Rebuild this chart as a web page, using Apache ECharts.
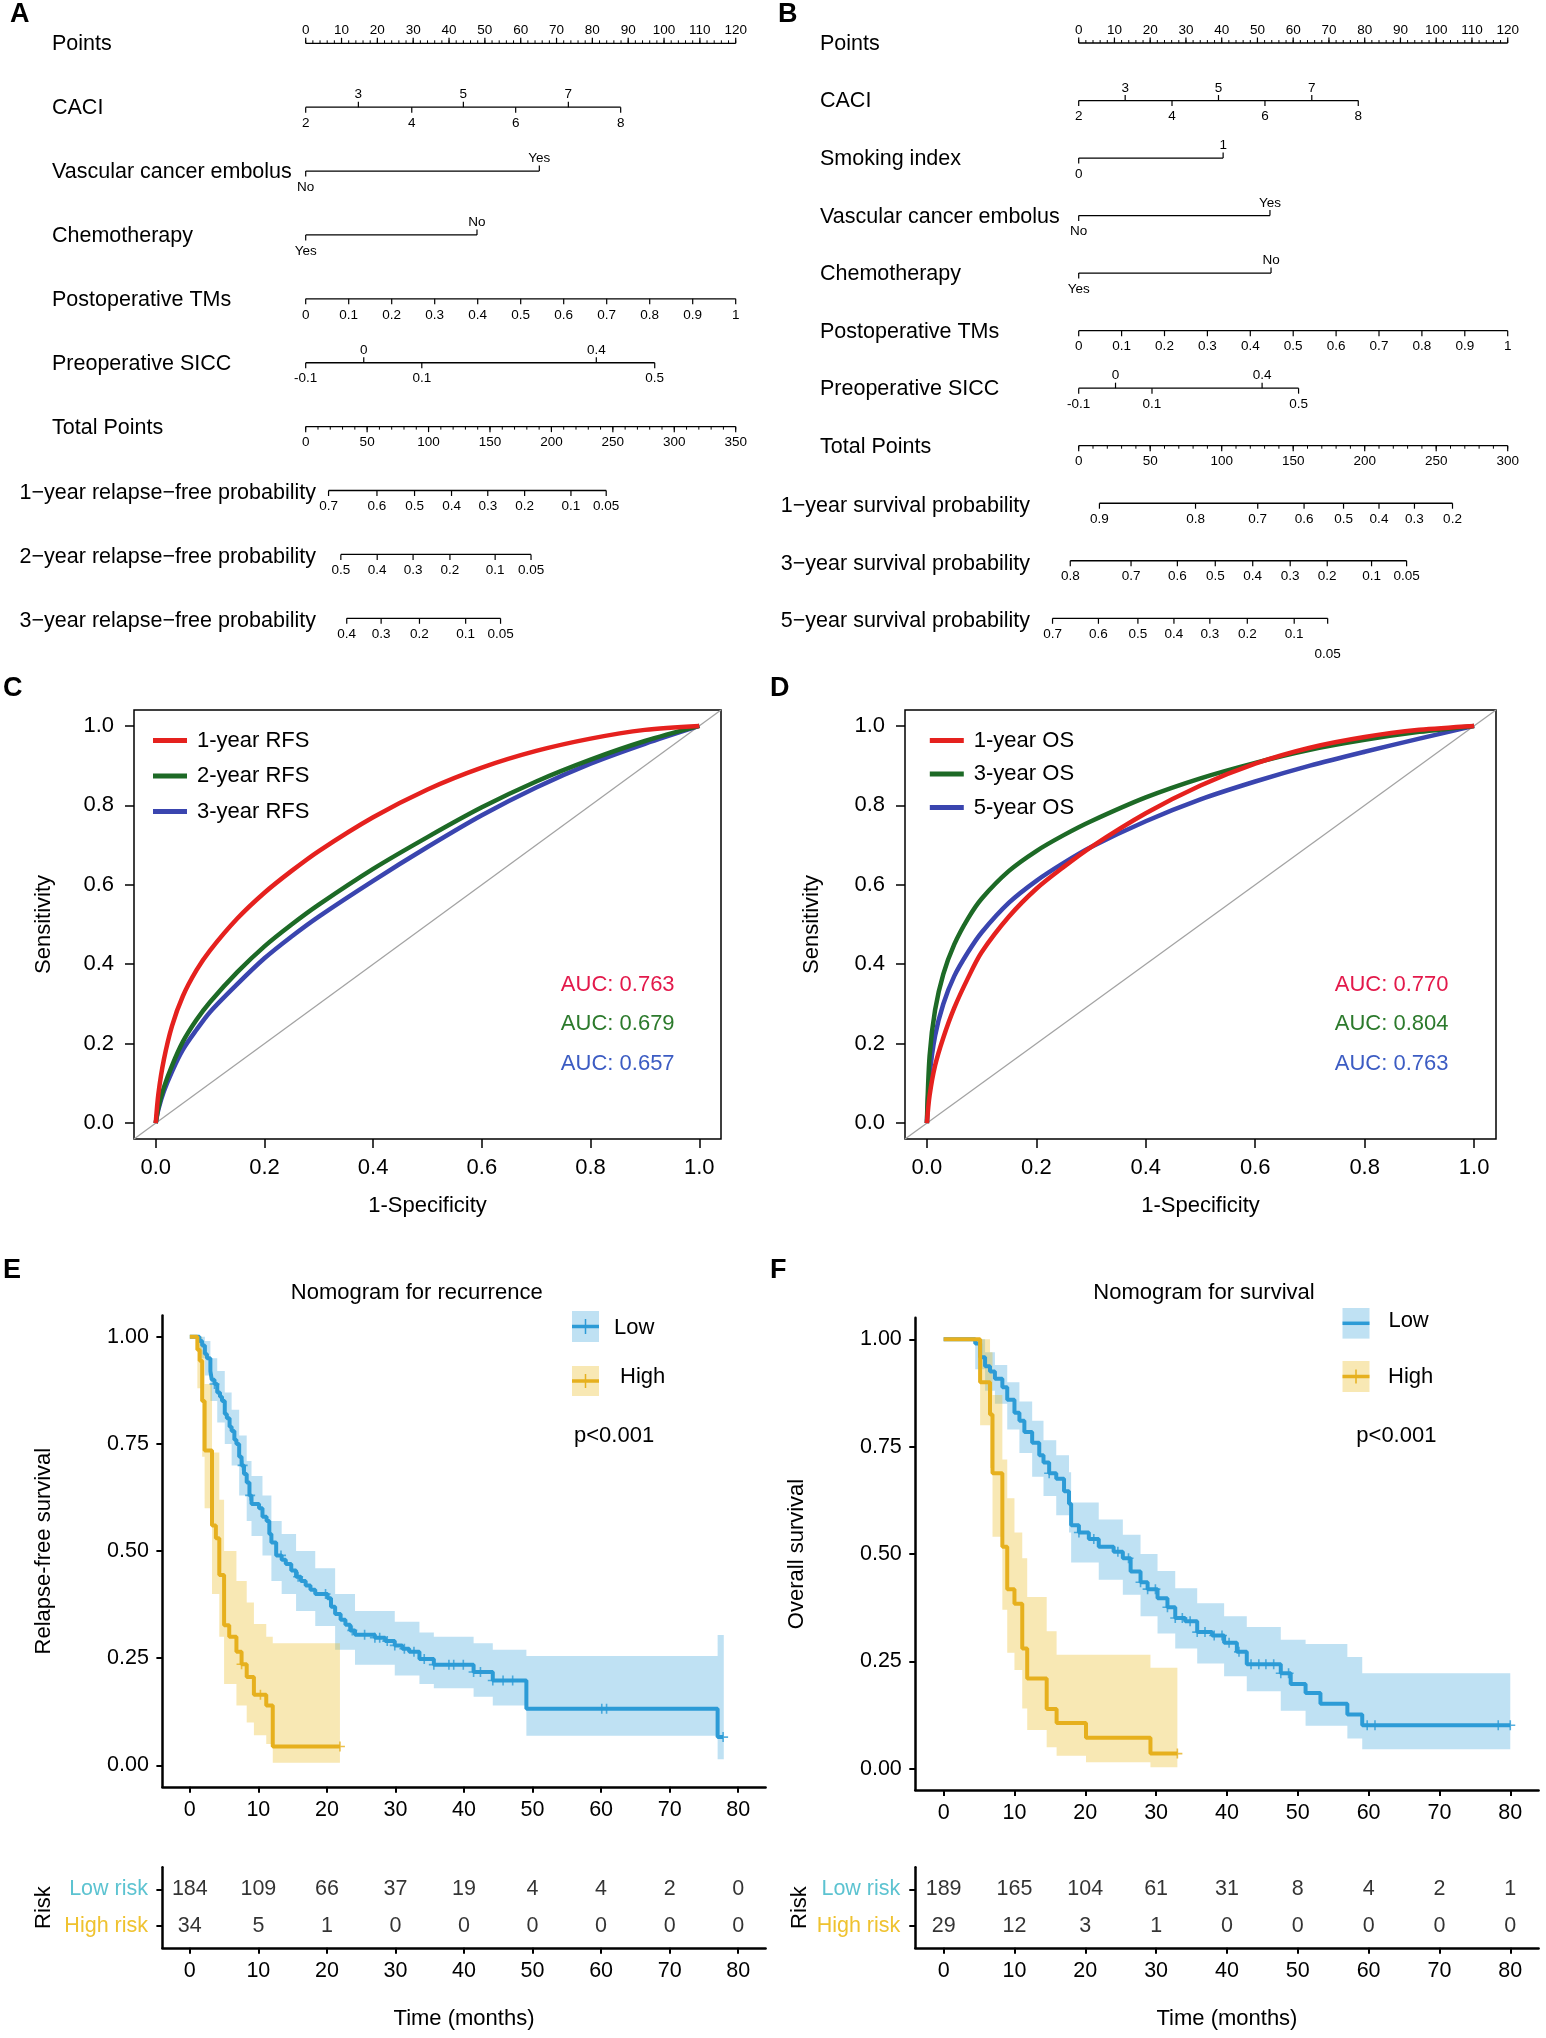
<!DOCTYPE html>
<html>
<head>
<meta charset="utf-8">
<script src="https://cdn.jsdelivr.net/npm/echarts@6/dist/echarts.min.js"></script>
<style>
html,body{margin:0;padding:0;background:#fff}
#chart{width:1546px;height:2038px}
</style>
</head>
<body>
<div id="chart"></div>
<script>
var FONT = 'Liberation Sans, Arial, Helvetica, sans-serif';

// ---------- A: nomogram for recurrence ----------
var nomoA_names = ['Points', 'CACI', 'Vascular cancer embolus', 'Chemotherapy', 'Postoperative TMs',
    'Preoperative SICC', 'Total Points', '1\u2212year relapse\u2212free probability',
    '2\u2212year relapse\u2212free probability', '3\u2212year relapse\u2212free probability'];
var nomoA_labels = [
    ['0', '10', '20', '30', '40', '50', '60', '70', '80', '90', '100', '110', '120'],
    ['2', '3', '4', '5', '6', '7', '8'],
    ['No', 'Yes'],
    ['Yes', 'No'],
    ['0', '0.1', '0.2', '0.3', '0.4', '0.5', '0.6', '0.7', '0.8', '0.9', '1'],
    ['-0.1', '0', '0.1', '0.4', '0.5'],
    ['0', '50', '100', '150', '200', '250', '300', '350'],
    ['0.7', '0.6', '0.5', '0.4', '0.3', '0.2', '0.1', '0.05'],
    ['0.5', '0.4', '0.3', '0.2', '0.1', '0.05'],
    ['0.4', '0.3', '0.2', '0.1', '0.05']
];
// where each label sits: in points for predictors, in total points for the last rows
var nomoA_at = [
    [0, 10, 20, 30, 40, 50, 60, 70, 80, 90, 100, 110, 120],
    [0, 14.7, 29.6, 44.0, 58.6, 73.3, 87.9],
    [0, 65.2],
    [0, 47.8],
    [0, 12, 24, 36, 48, 60, 72, 84, 96, 108, 120],
    [0, 16.2, 32.4, 81.1, 97.4],
    [0, 50, 100, 150, 200, 250, 300, 350],
    [18.6, 58.0, 88.6, 118.7, 148.2, 178.2, 215.9, 244.6],
    [28.6, 58.2, 87.4, 117.4, 154.2, 183.4],
    [33.4, 61.4, 92.6, 130.2, 158.6]
];

// ---------- B: nomogram for survival ----------
var nomoB_names = ['Points', 'CACI', 'Smoking index', 'Vascular cancer embolus', 'Chemotherapy',
    'Postoperative TMs', 'Preoperative SICC', 'Total Points', '1\u2212year survival probability',
    '3\u2212year survival probability', '5\u2212year survival probability'];
var nomoB_labels = [
    ['0', '10', '20', '30', '40', '50', '60', '70', '80', '90', '100', '110', '120'],
    ['2', '3', '4', '5', '6', '7', '8'],
    ['0', '1'],
    ['No', 'Yes'],
    ['Yes', 'No'],
    ['0', '0.1', '0.2', '0.3', '0.4', '0.5', '0.6', '0.7', '0.8', '0.9', '1'],
    ['-0.1', '0', '0.1', '0.4', '0.5'],
    ['0', '50', '100', '150', '200', '250', '300'],
    ['0.9', '0.8', '0.7', '0.6', '0.5', '0.4', '0.3', '0.2'],
    ['0.8', '0.7', '0.6', '0.5', '0.4', '0.3', '0.2', '0.1', '0.05'],
    ['0.7', '0.6', '0.5', '0.4', '0.3', '0.2', '0.1', '0.05']
];
var nomoB_at = [
    [0, 10, 20, 30, 40, 50, 60, 70, 80, 90, 100, 110, 120],
    [0, 13.0, 26.1, 39.1, 52.1, 65.2, 78.2],
    [0, 40.4],
    [0, 53.5],
    [0, 53.8],
    [0, 12, 24, 36, 48, 60, 72, 84, 96, 108, 120],
    [0, 10.3, 20.5, 51.3, 61.5],
    [0, 50, 100, 150, 200, 250, 300],
    [14.5, 81.7, 125.2, 157.6, 185.2, 210.0, 234.8, 261.4],
    [-5.9, 36.6, 69.0, 95.5, 121.7, 147.9, 173.8, 204.8, 229.3],
    [-18.3, 13.8, 41.4, 66.6, 91.7, 117.9, 150.7, 174.1]
];

// ---------- C / D: ROC curves ----------
var rocFpr = [0, 0.005, 0.015, 0.03, 0.05, 0.075, 0.1, 0.15, 0.2, 0.25, 0.3, 0.4, 0.5, 0.6, 0.7, 0.8, 0.9, 1.0];
var rocC_1yr = [0, 0.075, 0.16, 0.245, 0.32, 0.385, 0.435, 0.515, 0.58, 0.635, 0.685, 0.77, 0.84, 0.895, 0.937, 0.968, 0.99, 1];
var rocC_2yr = [0, 0.04, 0.09, 0.145, 0.205, 0.26, 0.305, 0.38, 0.445, 0.50, 0.55, 0.64, 0.72, 0.795, 0.86, 0.915, 0.962, 1];
var rocC_3yr = [0, 0.035, 0.08, 0.13, 0.185, 0.235, 0.28, 0.35, 0.415, 0.47, 0.52, 0.61, 0.695, 0.775, 0.845, 0.905, 0.955, 1];
var rocD_1yr = [0, 0.07, 0.145, 0.215, 0.29, 0.365, 0.43, 0.52, 0.59, 0.645, 0.695, 0.78, 0.85, 0.905, 0.945, 0.972, 0.99, 1];
var rocD_3yr = [0, 0.17, 0.285, 0.375, 0.45, 0.515, 0.565, 0.635, 0.685, 0.725, 0.76, 0.82, 0.868, 0.907, 0.94, 0.965, 0.985, 1];
var rocD_5yr = [0, 0.12, 0.22, 0.30, 0.37, 0.43, 0.48, 0.555, 0.61, 0.655, 0.695, 0.76, 0.815, 0.86, 0.90, 0.935, 0.968, 1];
var rocC_names = ['1-year RFS', '2-year RFS', '3-year RFS'];
var rocD_names = ['1-year OS', '3-year OS', '5-year OS'];
var rocC_auc = ['AUC: 0.763', 'AUC: 0.679', 'AUC: 0.657'];
var rocD_auc = ['AUC: 0.770', 'AUC: 0.804', 'AUC: 0.763'];
var rocTicks = [0, 0.2, 0.4, 0.6, 0.8, 1.0];

// ---------- E: relapse-free survival ----------
var kmE_lowT = [0, 1.4, 1.8, 2.2, 2.5, 3.0, 3.2, 3.6, 4.0, 4.4, 4.7, 5.1, 5.4, 5.8, 6.1, 6.5, 6.8, 7.2, 7.55, 7.9,
    8.3, 8.7, 9.0, 10.1, 10.6, 11.2, 11.6, 11.9, 12.6, 13.4, 14.0, 14.8, 15.5, 16.2, 16.9, 17.6, 18.3, 20.1, 20.6,
    21.2, 22.0, 22.7, 23.4, 24.1, 27.0, 28.5, 29.9, 31.0, 32.0, 33.5, 35.6, 41.4, 44.2, 49.1, 77.0, 77.8];
var kmE_lowS = [1, 0.99, 0.98, 0.96, 0.95, 0.92, 0.90, 0.89, 0.87, 0.86, 0.85, 0.82, 0.81, 0.79, 0.78, 0.76, 0.75,
    0.72, 0.70, 0.68, 0.66, 0.63, 0.61, 0.60, 0.58, 0.57, 0.54, 0.52, 0.49, 0.48, 0.47, 0.455, 0.44, 0.43, 0.42, 0.41,
    0.40, 0.39, 0.37, 0.353, 0.34, 0.328, 0.315, 0.305, 0.298, 0.29, 0.28, 0.272, 0.265, 0.248, 0.235, 0.218, 0.198,
    0.132, 0.066, 0.066];
var kmE_lowBandT = [1.4, 2.2, 3.0, 4.0, 5.1, 6.1, 7.2, 8.3, 9.0, 10.6, 11.9, 13.4, 15.5, 18.3, 21.2, 24.1, 29.9, 33.5,
    35.6, 41.4, 44.2, 49.1, 77.0, 77.9];
var kmE_lowBandLo = [0.95, 0.91, 0.85, 0.80, 0.75, 0.70, 0.63, 0.57, 0.535, 0.49, 0.43, 0.40, 0.36, 0.325, 0.27,
    0.235, 0.21, 0.19, 0.18, 0.16, 0.14, 0.069, 0.014];
var kmE_lowBandHi = [1.0, 0.99, 0.95, 0.92, 0.87, 0.83, 0.77, 0.71, 0.675, 0.63, 0.57, 0.54, 0.50, 0.46, 0.40,
    0.36, 0.335, 0.31, 0.30, 0.285, 0.27, 0.255, 0.304];
var kmE_lowCens = [3.6, 7.7, 8.8, 13.3, 15.8, 19.8, 23.7, 25.5, 27.0, 27.7, 28.8, 29.9, 31.3, 32.7, 34.2, 35.6,
    37.8, 38.5, 39.9, 41.4, 42.4, 44.2, 45.7, 47.1, 60.1, 60.8, 77.8];
var kmE_highT = [0, 1.1, 1.44, 1.8, 2.16, 3.24, 3.8, 4.3, 5.0, 5.75, 6.8, 7.55, 8.3, 9.35, 11.15, 12.1, 21.9];
var kmE_highS = [1, 0.97, 0.944, 0.85, 0.735, 0.56, 0.53, 0.444, 0.327, 0.30, 0.265, 0.236, 0.206, 0.165, 0.14,
    0.044, 0.044];
var kmE_highBandT = [1.1, 1.8, 2.16, 3.24, 4.3, 5.0, 6.8, 8.3, 9.35, 11.15, 12.1, 21.9];
var kmE_highBandLo = [0.88, 0.72, 0.60, 0.40, 0.30, 0.19, 0.14, 0.10, 0.07, 0.05, 0.006];
var kmE_highBandHi = [1.0, 0.97, 0.89, 0.73, 0.62, 0.50, 0.43, 0.38, 0.33, 0.30, 0.285];
var kmE_highCens = [7.55, 10.3, 21.9];

// ---------- F: overall survival ----------
var kmF_lowT = [0, 4.46, 5.15, 5.85, 6.55, 7.24, 8.29, 8.98, 10.0, 10.7, 11.4, 12.5, 13.5, 14.1, 14.9, 15.9, 17.0,
    17.7, 18.0, 19.1, 20.5, 21.9, 24.0, 25.3, 26.4, 27.8, 28.8, 30.2, 31.6, 32.7, 34.1, 35.8, 37.9, 39.6, 41.4,
    42.8, 47.6, 49.0, 51.1, 53.2, 57.0, 59.1, 80.0];
var kmF_lowS = [1, 0.99, 0.958, 0.937, 0.925, 0.908, 0.888, 0.859, 0.829, 0.81, 0.784, 0.759, 0.73, 0.713, 0.688,
    0.675, 0.646, 0.617, 0.567, 0.55, 0.535, 0.517, 0.505, 0.49, 0.459, 0.434, 0.418, 0.397, 0.376, 0.351, 0.343,
    0.318, 0.31, 0.293, 0.272, 0.243, 0.222, 0.197, 0.176, 0.151, 0.126, 0.101, 0.101];
var kmF_lowBandT = [4.46, 5.85, 7.24, 8.98, 10.7, 12.5, 14.1, 15.9, 17.7, 18.0, 21.9, 25.3, 27.8, 30.2, 32.7, 35.8,
    39.6, 42.8, 47.6, 51.1, 57.0, 59.1, 80.0];
var kmF_lowBandLo = [0.93, 0.88, 0.85, 0.79, 0.735, 0.68, 0.635, 0.59, 0.55, 0.48, 0.44, 0.405, 0.355, 0.315, 0.28,
    0.245, 0.215, 0.18, 0.135, 0.10, 0.07, 0.045];
var kmF_lowBandHi = [1.0, 0.97, 0.94, 0.90, 0.855, 0.81, 0.765, 0.73, 0.69, 0.62, 0.58, 0.545, 0.50, 0.46, 0.42,
    0.385, 0.355, 0.33, 0.30, 0.29, 0.26, 0.222];
var kmF_lowCens = [14.9, 19.1, 21.2, 24.6, 26.1, 27.8, 28.8, 29.9, 31.6, 32.7, 33.7, 34.8, 35.8, 36.9, 38.2, 39.3,
    40.3, 41.7, 43.4, 44.5, 45.5, 46.6, 47.6, 48.7, 59.8, 60.9, 78.3, 80.0];
var kmF_highT = [0, 5.15, 6.55, 6.9, 8.29, 8.98, 10.0, 11.1, 11.8, 14.55, 15.95, 20.1, 29.2, 33.0];
var kmF_highS = [1, 0.90, 0.825, 0.688, 0.517, 0.418, 0.384, 0.28, 0.21, 0.139, 0.106, 0.072, 0.035, 0.035];
var kmF_highBandT = [5.15, 6.55, 6.9, 8.29, 8.98, 10.0, 11.1, 11.8, 14.55, 15.95, 20.1, 29.2, 33.0];
var kmF_highBandLo = [0.80, 0.70, 0.54, 0.37, 0.27, 0.23, 0.14, 0.09, 0.05, 0.03, 0.015, 0.003];
var kmF_highBandHi = [1.0, 0.97, 0.87, 0.72, 0.63, 0.55, 0.49, 0.40, 0.32, 0.265, 0.265, 0.235];
var kmF_highCens = [33.0];

// ---------- numbers at risk ----------
var riskTimes = [0, 10, 20, 30, 40, 50, 60, 70, 80];
var riskE_low = [184, 109, 66, 37, 19, 4, 4, 2, 0];
var riskE_high = [34, 5, 1, 0, 0, 0, 0, 0, 0];
var riskF_low = [189, 165, 104, 61, 31, 8, 4, 2, 1];
var riskF_high = [29, 12, 3, 1, 0, 0, 0, 0, 0];
var kmTicks = [0, 10, 20, 30, 40, 50, 60, 70, 80];
var survTicks = [0, 0.25, 0.5, 0.75, 1];

// colours
var RED = '#E5211E', GREEN = '#1D6A26', BLUE = '#3A45AF';
var AUC_COL = ['#E3194B', '#2C7A2C', '#3C5CC3'];
var KM_BLUE = '#2C9BD6', KM_GOLD = '#E6B01E';
var BAND_BLUE = 'rgba(44,155,214,0.30)', BAND_GOLD = 'rgba(236,190,40,0.35)';

// ---------- helpers ----------
function nomoRender(nm) {
    return function (params, api) {
        var i = api.value(1);
        var kind = nm.kind[i];
        var k = (kind === 'total' || kind === 'prob') ? 120 / nm.totalMax : 1;
        var y = api.coord([0, i])[1];
        var at = nm.at[i];
        var xs = at.map(function (v) { return api.coord([v * k, i])[0]; });
        var kids = [];
        kids.push({type: 'line', shape: {x1: xs[0], y1: y, x2: xs[xs.length - 1], y2: y},
            style: {stroke: '#000', lineWidth: 1.3}});
        if (nm.minor[i]) {
            var dirM = kind === 'points' ? -1 : 1;
            for (var v = at[0]; v <= at[at.length - 1] + 1e-9; v += nm.minor[i]) {
                var xm = api.coord([v * k, i])[0];
                kids.push({type: 'line', shape: {x1: xm, y1: y, x2: xm, y2: y + dirM * 3},
                    style: {stroke: '#000', lineWidth: 1}});
            }
        }
        nm.labels[i].forEach(function (lab, j) {
            var up = kind === 'points' || (kind === 'alt' && j % 2 === 1);
            var dir = up ? -1 : 1;
            var drop = (nm.stagger[i] && nm.stagger[i].indexOf(lab) >= 0) ? 20 : 0;
            kids.push({type: 'line', shape: {x1: xs[j], y1: y, x2: xs[j], y2: y + dir * 5.5},
                style: {stroke: '#000', lineWidth: 1.2}});
            kids.push({type: 'text', style: {text: lab, x: xs[j], y: up ? y - 12.7 : y + 16 + drop,
                align: 'center', verticalAlign: 'middle', fontSize: 13.5, fontFamily: FONT, fill: '#000'}});
        });
        var isProb = kind === 'prob';
        kids.push({type: 'text', style: {text: nm.names[i], x: isProb ? nm.probX : nm.predX, y: y + (isProb ? 3 : 1),
            align: isProb ? 'right' : 'left', verticalAlign: 'middle', fontSize: 21.5, fontFamily: FONT, fill: '#000'}});
        return {type: 'group', children: kids};
    };
}

function pairs(xs, ys) {
    return xs.map(function (x, i) { return [x, ys[i]]; });
}

function stepAt(T, S, t) {
    var s = S[0];
    for (var i = 0; i < T.length; i++) { if (T[i] <= t) s = S[i]; }
    return s;
}

function bandRender(T, lo, hi, color) {
    return function (params, api) {
        var pts = [], k;
        for (k = 0; k < lo.length; k++) {
            pts.push(api.coord([T[k], hi[k]]), api.coord([T[k + 1], hi[k]]));
        }
        for (k = lo.length - 1; k >= 0; k--) {
            pts.push(api.coord([T[k + 1], lo[k]]), api.coord([T[k], lo[k]]));
        }
        return {type: 'polygon', shape: {points: pts}, style: {fill: color}};
    };
}

var PLUS = 'path://M4.2,0h1.6v4.2h4.2v1.6h-4.2v4.2h-1.6v-4.2h-4.2v-1.6h4.2z';

// ---------- layout ----------
var L = {
    nomoA: {left: 305.7, top: 43.3, width: 430, height: 575},
    nomoB: {left: 1078.7, top: 43, width: 429, height: 575.3},
    rocC: {left: 134, top: 710, width: 587, height: 429},
    rocD: {left: 905, top: 710, width: 591, height: 429},
    kmE: {left: 162.4, top: 1315.4, width: 603.2, height: 471.4},
    kmF: {left: 915.3, top: 1317.8, width: 623.3, height: 472.3},
    tabE: {left: 162.4, top: 1867.3, width: 603.2, height: 80.5},
    tabF: {left: 915.3, top: 1867.3, width: 623.3, height: 80.5}
};

var nomoA = {names: nomoA_names, labels: nomoA_labels, at: nomoA_at,
    kind: ['points', 'alt', 'alt', 'alt', 'below', 'alt', 'total', 'prob', 'prob', 'prob'],
    minor: {0: 2, 6: 10}, totalMax: 350, predX: 52, probX: 316, stagger: {}};
var nomoB = {names: nomoB_names, labels: nomoB_labels, at: nomoB_at,
    kind: ['points', 'alt', 'alt', 'alt', 'alt', 'below', 'alt', 'total', 'prob', 'prob', 'prob'],
    minor: {0: 2, 7: 10}, totalMax: 300, predX: 820, probX: 1030, stagger: {10: ['0.05']}};

var txt = {fontSize: 22, color: '#000', fontFamily: FONT};

function hiddenAxis(gi, min, max, inverse) {
    return {gridIndex: gi, type: 'value', min: min, max: max, inverse: !!inverse, show: false};
}

function rocXAxis(gi) {
    return {gridIndex: gi, type: 'value', min: -0.04, max: 1.04, position: 'bottom',
        name: '1-Specificity', nameLocation: 'middle', nameGap: 56, nameTextStyle: txt, nameMoveOverlap: false,
        axisLine: {show: false, onZero: false},
        axisTick: {show: true, customValues: rocTicks, length: 9, lineStyle: {color: '#000', width: 1.5}},
        axisLabel: {customValues: rocTicks, margin: 18, fontSize: 22, color: '#000', fontFamily: FONT,
            formatter: function (v) { return v.toFixed(1); }},
        splitLine: {show: false}};
}
function rocYAxis(gi, gap) {
    return {gridIndex: gi, type: 'value', min: -0.04, max: 1.04, position: 'left',
        name: 'Sensitivity', nameLocation: 'middle', nameRotate: 90, nameGap: gap, nameTextStyle: txt,
        nameMoveOverlap: false,
        axisLine: {show: false, onZero: false},
        axisTick: {show: true, customValues: rocTicks, length: 9, lineStyle: {color: '#000', width: 1.5}},
        axisLabel: {customValues: rocTicks, margin: 20, fontSize: 22, color: '#000', fontFamily: FONT,
            formatter: function (v) { return v.toFixed(1); }},
        splitLine: {show: false}};
}
function kmXAxis(gi, name) {
    var ax = {gridIndex: gi, type: 'value', min: -4, max: 84, position: 'bottom',
        axisLine: {show: true, onZero: false, lineStyle: {color: '#000', width: 2.5}},
        axisTick: {show: true, customValues: kmTicks, length: 6, lineStyle: {color: '#000', width: 2}},
        axisLabel: {customValues: kmTicks, margin: 12, fontSize: 21.5, color: '#000', fontFamily: FONT},
        splitLine: {show: false}};
    if (name) {
        ax.name = name; ax.nameLocation = 'middle'; ax.nameGap = 60; ax.nameTextStyle = txt;
        ax.nameMoveOverlap = false;
    }
    return ax;
}
function kmYAxis(gi, name, gap) {
    return {gridIndex: gi, type: 'value', min: -0.05, max: 1.05, position: 'left',
        name: name, nameLocation: 'middle', nameRotate: 90, nameGap: gap, nameTextStyle: txt, nameMoveOverlap: false,
        axisLine: {show: true, onZero: false, lineStyle: {color: '#000', width: 2.5}},
        axisTick: {show: true, customValues: survTicks, length: 6, lineStyle: {color: '#000', width: 2}},
        axisLabel: {customValues: survTicks, margin: 13.5, fontSize: 21.5, color: '#000', fontFamily: FONT,
            formatter: function (v) { return v.toFixed(2); }},
        splitLine: {show: false}};
}
function tabYAxis(gi, gap, margin) {
    return {gridIndex: gi, type: 'value', min: 0.4, max: 2.6, position: 'left',
        name: 'Risk', nameLocation: 'middle', nameRotate: 90, nameGap: gap, nameTextStyle: txt, nameMoveOverlap: false,
        axisLine: {show: true, onZero: false, lineStyle: {color: '#000', width: 2.5}},
        axisTick: {show: true, customValues: [1, 2], length: 6, lineStyle: {color: '#000', width: 2}},
        axisLabel: {customValues: [1, 2], margin: margin, fontFamily: FONT,
            formatter: function (v) { return v === 2 ? '{lo|Low risk}' : '{hi|High risk}'; },
            rich: {lo: {fontSize: 21.5, color: '#5CC3D1', fontFamily: FONT},
                   hi: {fontSize: 21.5, color: '#EFC22F', fontFamily: FONT}}},
        splitLine: {show: false}};
}

function rocSeries(names, ys, colors, xi) {
    var out = names.map(function (n, k) {
        return {name: n, type: 'line', xAxisIndex: xi, yAxisIndex: xi, data: pairs(rocFpr, ys[k]),
            smooth: 0.3, showSymbol: false, symbol: 'none',
            itemStyle: {color: colors[k]}, lineStyle: {color: colors[k], width: 4.5}, z: 3 + (2 - k)};
    });
    out.unshift({type: 'line', xAxisIndex: xi, yAxisIndex: xi, data: [[-0.04, -0.04], [1.04, 1.04]],
        symbol: 'none', lineStyle: {color: '#A3A3A3', width: 1.3}, z: 2, silent: true});
    return out;
}

function kmSeries(xi, T1, S1, bT1, bLo1, bHi1, c1, T2, S2, bT2, bLo2, bHi2, c2) {
    var d1 = c1.map(function (t) { return [t, stepAt(T1, S1, t)]; });
    var d2 = c2.map(function (t) { return [t, stepAt(T2, S2, t)]; });
    return [
        {type: 'custom', xAxisIndex: xi, yAxisIndex: xi, data: [[bT1[0], bLo1[0]]], clip: false, z: 1,
            renderItem: bandRender(bT1, bLo1, bHi1, BAND_BLUE), silent: true},
        {type: 'custom', xAxisIndex: xi, yAxisIndex: xi, data: [[bT2[0], bLo2[0]]], clip: false, z: 1,
            renderItem: bandRender(bT2, bLo2, bHi2, BAND_GOLD), silent: true},
        {type: 'line', xAxisIndex: xi, yAxisIndex: xi, data: pairs(T1, S1), step: 'end', symbol: 'none',
            lineStyle: {color: KM_BLUE, width: 4}, z: 4},
        {type: 'line', xAxisIndex: xi, yAxisIndex: xi, data: pairs(T2, S2), step: 'end', symbol: 'none',
            lineStyle: {color: KM_GOLD, width: 4}, z: 4},
        {type: 'scatter', xAxisIndex: xi, yAxisIndex: xi, data: d1, symbol: PLUS, symbolSize: 10,
            itemStyle: {color: KM_BLUE}, z: 5},
        {type: 'scatter', xAxisIndex: xi, yAxisIndex: xi, data: d2, symbol: PLUS, symbolSize: 10,
            itemStyle: {color: KM_GOLD}, z: 5}
    ];
}

function riskSeries(xi, low, high) {
    var d = [];
    riskTimes.forEach(function (t, k) { d.push([t, 2, low[k]]); d.push([t, 1, high[k]]); });
    return {type: 'scatter', xAxisIndex: xi, yAxisIndex: xi, data: d, symbolSize: 1,
        itemStyle: {color: 'rgba(0,0,0,0)'},
        label: {show: true, position: 'inside', fontSize: 21.5, color: '#000', fontFamily: FONT,
            formatter: function (p) { return String(p.value[2]); }}};
}

function text(x, y, s, opt) {
    opt = opt || {};
    return {type: 'text', x: x, y: y, silent: true, style: {text: s, fill: opt.color || '#000',
        fontSize: opt.size || 22, fontWeight: opt.weight || 'normal', fontFamily: FONT,
        align: opt.align || 'left', verticalAlign: 'middle'}};
}
function rect(x, y, w, h, fill) {
    return {type: 'rect', silent: true, shape: {x: x, y: y, width: w, height: h}, style: {fill: fill}};
}
function seg(x1, y1, x2, y2, color, w) {
    return {type: 'line', silent: true, shape: {x1: x1, y1: y1, x2: x2, y2: y2}, style: {stroke: color, lineWidth: w}};
}

var graphics = [
    text(10, 15, 'A', {size: 27, weight: 'bold'}),
    text(778, 15, 'B', {size: 27, weight: 'bold'}),
    text(3, 689, 'C', {size: 27, weight: 'bold'}),
    text(770, 689, 'D', {size: 27, weight: 'bold'}),
    text(3, 1271, 'E', {size: 27, weight: 'bold'}),
    text(770, 1271, 'F', {size: 27, weight: 'bold'}),
    text(416.7, 1293, 'Nomogram for recurrence', {align: 'center'}),
    text(1204, 1293, 'Nomogram for survival', {align: 'center'}),
    // KM legend E
    rect(572, 1311, 27, 31, BAND_BLUE), seg(572, 1326.5, 599, 1326.5, KM_BLUE, 3.5), seg(585.5, 1319, 585.5, 1334, KM_BLUE, 1.5),
    rect(572, 1366, 27, 30, BAND_GOLD), seg(572, 1381, 599, 1381, KM_GOLD, 3.5), seg(585.5, 1374, 585.5, 1388, KM_GOLD, 1.5),
    text(614, 1328, 'Low'), text(620, 1377, 'High'),
    text(574, 1435.7, 'p<0.001'),
    // KM legend F
    rect(1342.5, 1308, 27, 30.6, BAND_BLUE), seg(1342.5, 1323.3, 1369.5, 1323.3, KM_BLUE, 3.5),
    rect(1342.5, 1361, 27, 31, BAND_GOLD), seg(1342.5, 1376.5, 1369.5, 1376.5, KM_GOLD, 3.5), seg(1356, 1369.5, 1356, 1383.5, KM_GOLD, 1.5),
    text(1388.4, 1320.7, 'Low'), text(1388, 1376.8, 'High'),
    text(1356.3, 1435.7, 'p<0.001')
];
[984.7, 1023.9, 1064.2].forEach(function (y, k) {
    graphics.push(text(674.6, y, rocC_auc[k], {align: 'right', color: AUC_COL[k]}));
    graphics.push(text(1448.5, y, rocD_auc[k], {align: 'right', color: AUC_COL[k]}));
});

function rocLegend(names, left, gap) {
    return {data: names, orient: 'vertical', left: left, top: 729.6, icon: 'rect', itemWidth: 34, itemHeight: 5,
        itemGap: gap, selectedMode: false, padding: 0,
        textStyle: {fontSize: 22, color: '#000', fontFamily: FONT, padding: [0, 0, 0, 5]}};
}

var chart = echarts.init(document.getElementById('chart'), null, {renderer: 'canvas'});
var option = {
    backgroundColor: '#fff',
    animation: false,
    grid: [
        L.nomoA, L.nomoB,
        Object.assign({show: true, borderColor: '#000', borderWidth: 1.5}, L.rocC),
        Object.assign({show: true, borderColor: '#000', borderWidth: 1.5}, L.rocD),
        L.kmE, L.kmF, L.tabE, L.tabF
    ],
    xAxis: [
        hiddenAxis(0, 0, 120), hiddenAxis(1, 0, 120),
        rocXAxis(2), rocXAxis(3),
        kmXAxis(4), kmXAxis(5),
        kmXAxis(6, 'Time (months)'), kmXAxis(7, 'Time (months)')
    ],
    yAxis: [
        hiddenAxis(0, 0, 9, true), hiddenAxis(1, 0, 10, true),
        rocYAxis(2, 79), rocYAxis(3, 82),
        kmYAxis(4, 'Relapse-free survival', 107), kmYAxis(5, 'Overall survival', 107),
        tabYAxis(6, 107, 14.4), tabYAxis(7, 104, 15)
    ],
    legend: [rocLegend(rocC_names, 153, 13.5), rocLegend(rocD_names, 929.8, 11.5)],
    graphic: graphics,
    series: [].concat(
        [{type: 'custom', xAxisIndex: 0, yAxisIndex: 0, clip: false, silent: true,
            data: nomoA_names.map(function (n, i) { return [0, i]; }), renderItem: nomoRender(nomoA)},
         {type: 'custom', xAxisIndex: 1, yAxisIndex: 1, clip: false, silent: true,
            data: nomoB_names.map(function (n, i) { return [0, i]; }), renderItem: nomoRender(nomoB)}],
        rocSeries(rocC_names, [rocC_1yr, rocC_2yr, rocC_3yr], [RED, GREEN, BLUE], 2),
        rocSeries(rocD_names, [rocD_1yr, rocD_3yr, rocD_5yr], [RED, GREEN, BLUE], 3),
        kmSeries(4, kmE_lowT, kmE_lowS, kmE_lowBandT, kmE_lowBandLo, kmE_lowBandHi, kmE_lowCens,
            kmE_highT, kmE_highS, kmE_highBandT, kmE_highBandLo, kmE_highBandHi, kmE_highCens),
        kmSeries(5, kmF_lowT, kmF_lowS, kmF_lowBandT, kmF_lowBandLo, kmF_lowBandHi, kmF_lowCens,
            kmF_highT, kmF_highS, kmF_highBandT, kmF_highBandLo, kmF_highBandHi, kmF_highCens),
        [riskSeries(6, riskE_low, riskE_high), riskSeries(7, riskF_low, riskF_high)]
    )
};
chart.setOption(option);
</script>
</body>
</html>
